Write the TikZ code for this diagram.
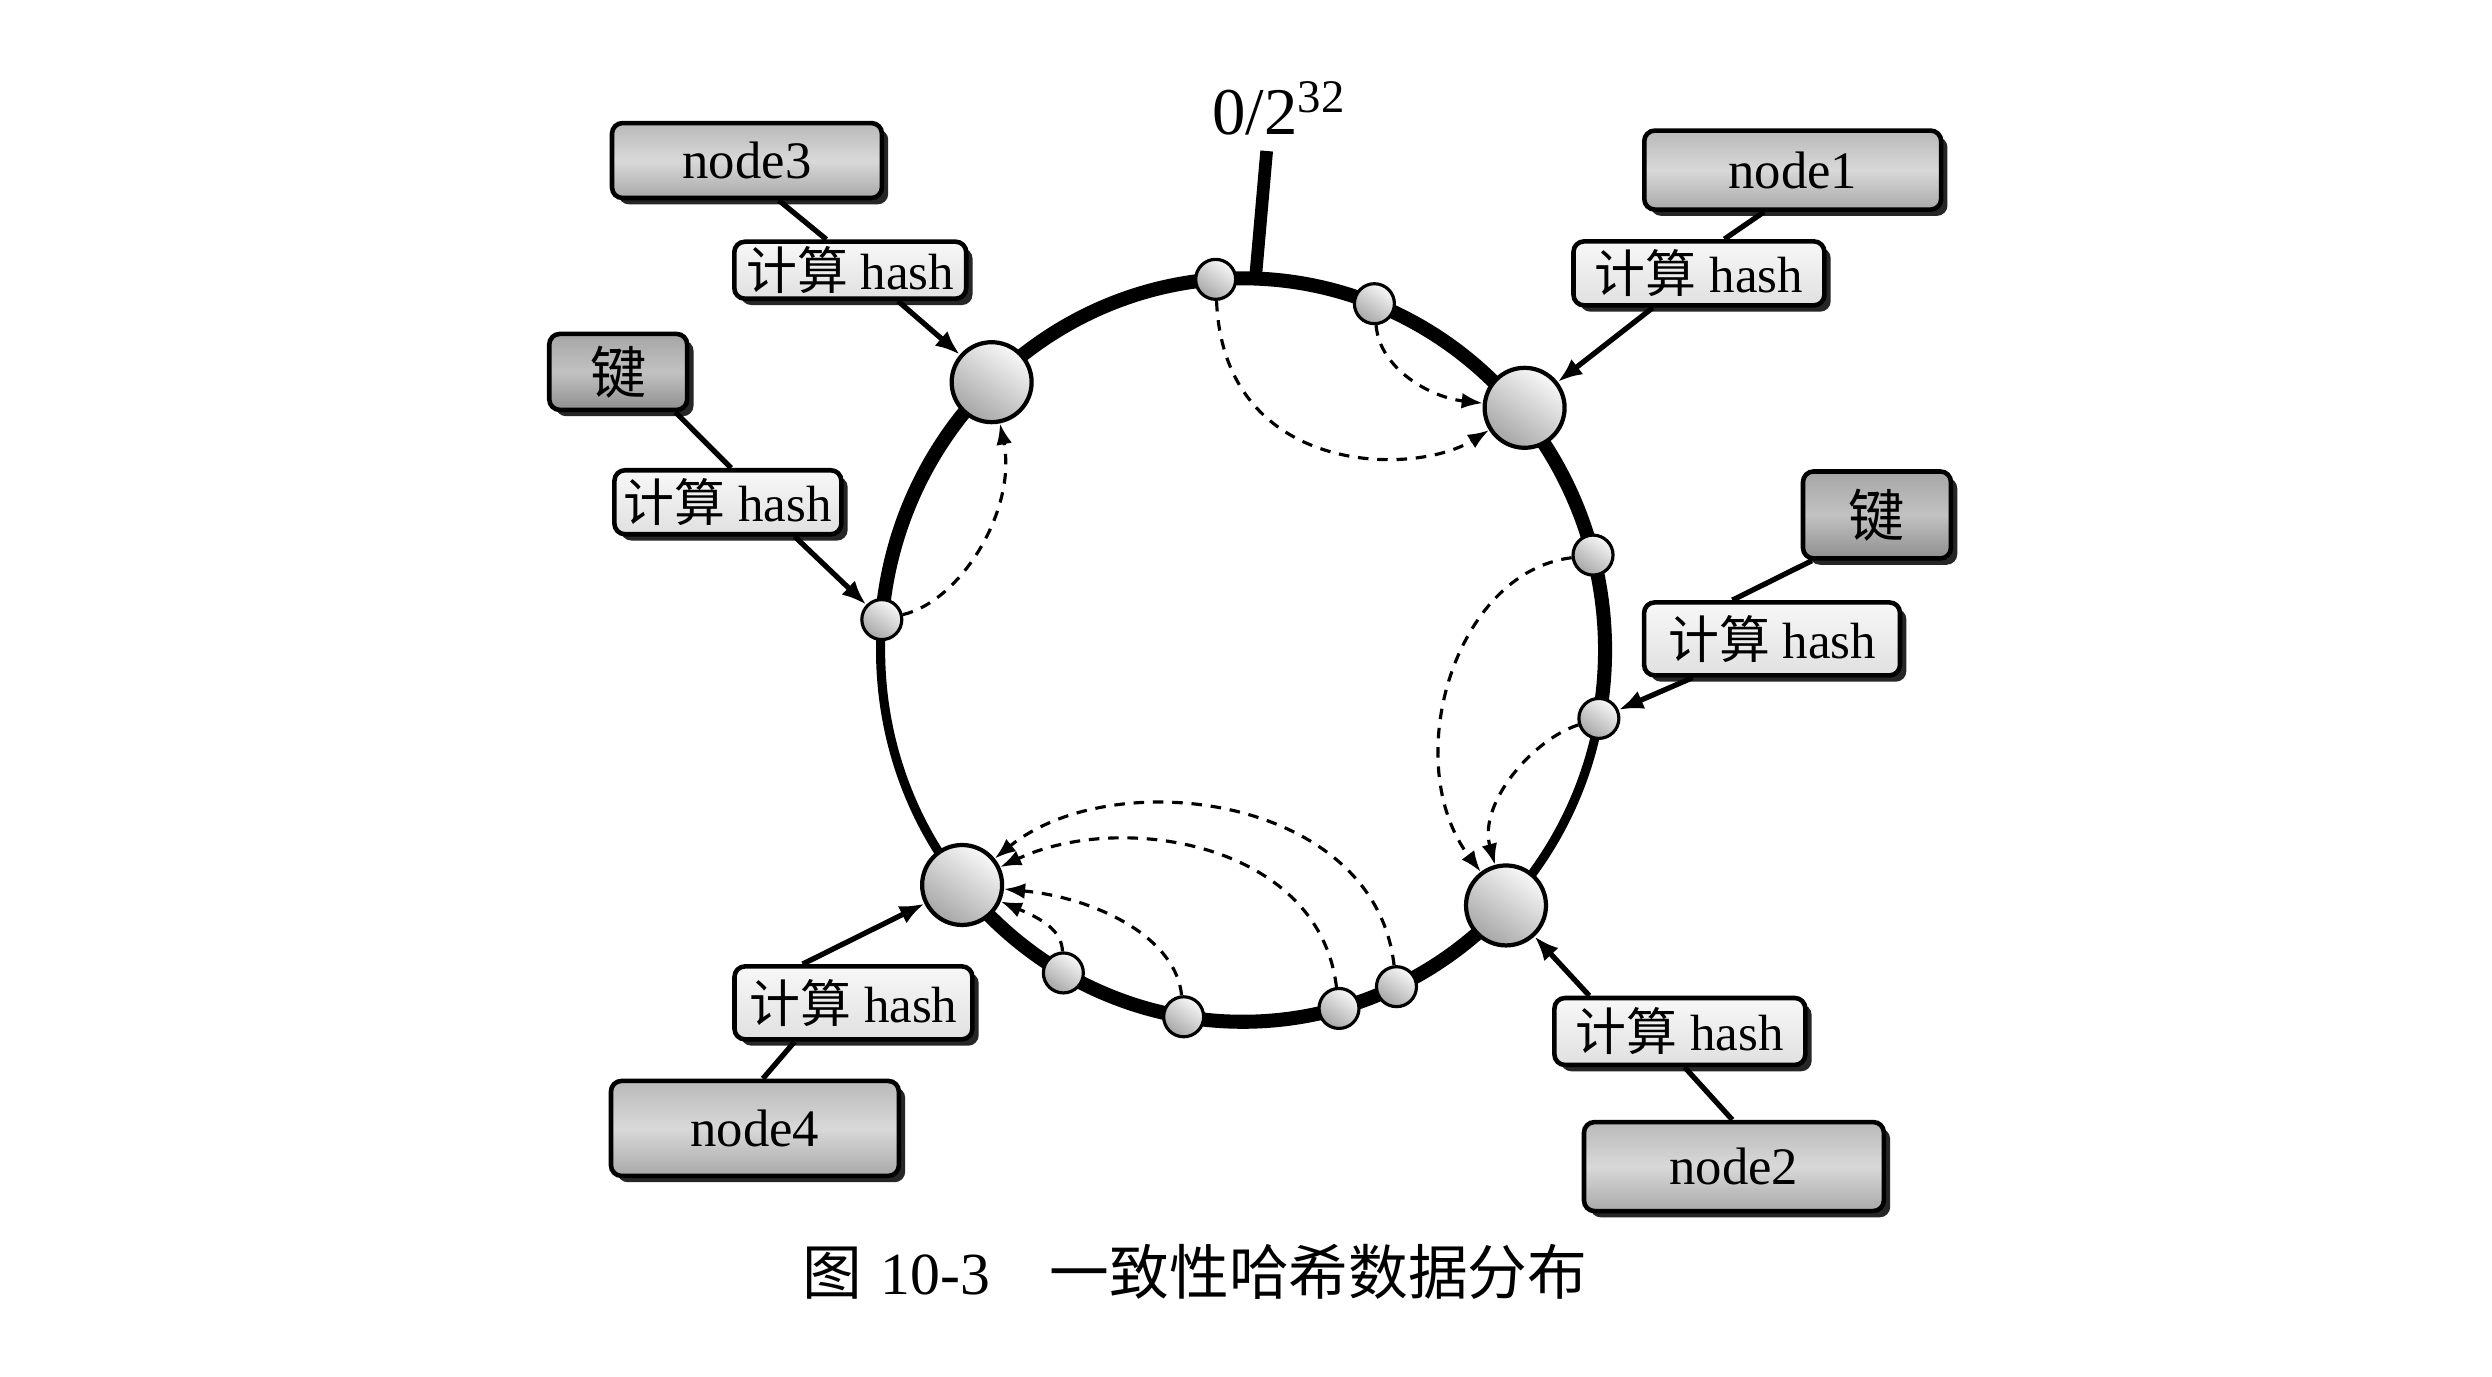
\documentclass[tikz,border=0pt]{standalone}
\usepackage{fontspec}
\newfontfamily\cjk{Noto Sans CJK SC}
\newfontfamily\tms{Liberation Serif}
\usetikzlibrary{calc,shadows,arrows.meta}
\begin{document}
\begin{tikzpicture}[x=0.015893cm, y=-0.015893cm,
  ring/.style={line width=2.6pt},
  ringthick/.style={line width=4pt},
  tick/.style={line width=3.6pt},
  ballshade/.style={left color=gray!5, right color=gray!70, shading angle=-35},
  bigball/.style={circle, draw=black, line width=1.2pt, ballshade, minimum size=0.8cm, inner sep=0pt},
  smallball/.style={circle, draw=black, line width=0.9pt, ballshade, minimum size=0.4cm, inner sep=0pt},
  box/.style={rounded corners=3pt, draw=black, line width=1.3pt,
    drop shadow={shadow xshift=1.8pt, shadow yshift=-1.8pt, fill=black!85, opacity=1},
    inner sep=0pt, font=\tms\fontsize{14.5}{16}\selectfont},
  nodebox/.style={box, top color=gray!55, bottom color=gray!68, middle color=gray!30, font=\tms\fontsize{15}{17}\selectfont},
  keybox/.style={box, top color=gray!70, bottom color=gray!88, middle color=gray!48, font=\cjk\fontsize{16}{18}\selectfont},
  hashbox/.style={box, top color=gray!6, bottom color=gray!24},
  link/.style={line width=1.5pt},
  feed/.style={line width=1.5pt, -{Latex[length=7pt,width=5.5pt]}},
  hop/.style={line width=0.9pt, dash pattern=on 3pt off 2.5pt, -{Latex[length=6pt,width=4.5pt]}},
]
\fill[white] (0,0) rectangle (1568,866);
\useasboundingbox (0,0) rectangle (1568,866);

% ring
\coordinate (C) at (782,409);
\draw[ring] (C) ellipse [x radius=3.624cm, y radius=3.719cm];
\draw[ringthick] ($(C)+(175.3:3.624cm and 3.719cm)$) arc[start angle=175.3, end angle=-10.6, x radius=3.624cm, y radius=3.719cm];
\draw[ringthick] ($(C)+(-43.4:3.624cm and 3.719cm)$) arc[start angle=-43.4, end angle=-140.8, x radius=3.624cm, y radius=3.719cm];
\coordinate (t0) at ($(C)+(88:3.624cm and 3.719cm)$);
\coordinate (t1) at (797,95);
\draw[tick] (t0) -- (t1);
\node (lab) at (805,68) {\tms\fontsize{19}{21}\selectfont 0/2\textsuperscript{32}};

% points on the ring
\node[smallball] (s1) at ($(C)+(94.3:3.624cm and 3.719cm)$) {};
\node[smallball] (s2) at ($(C)+(68.7:3.624cm and 3.719cm)$) {};
\node[bigball]   (N1) at ($(C)+(40:3.68cm and 3.77cm)$) {};
\node[smallball] (s3) at ($(C)+(14.8:3.624cm and 3.719cm)$) {};
\node[smallball] (s4) at ($(C)+(-10.6:3.624cm and 3.719cm)$) {};
\node[bigball]   (N2) at ($(C)+(-43.4:3.624cm and 3.719cm)$) {};
\node[smallball] (s5) at ($(C)+(-64.9:3.624cm and 3.719cm)$) {};
\node[smallball] (s6) at ($(C)+(-74.6:3.624cm and 3.719cm)$) {};
\node[smallball] (s7) at ($(C)+(-99.4:3.624cm and 3.719cm)$) {};
\node[smallball] (s8) at ($(C)+(-119.7:3.624cm and 3.719cm)$) {};
\node[bigball]   (N4) at ($(C)+(-140.8:3.624cm and 3.719cm)$) {};
\node[smallball] (s9) at ($(C)+(175.3:3.624cm and 3.719cm)$) {};
\node[bigball]   (N3) at ($(C)+(133.9:3.624cm and 3.719cm)$) {};

% dashed hops
\draw[hop] (s1) .. controls (770,300) and (890,300) .. (N1);
\draw[hop] (s2) .. controls (868,232) and (900,250) .. (N1);
\draw[hop] (s9) .. controls (605,378) and (640,320) .. (N3);
\draw[hop] (s3) .. controls (915,360) and (880,480) .. (N2);
\draw[hop] (s4) .. controls (965,465) and (930,505) .. (N2);
\draw[hop] (s5) .. controls (865,500) and (700,480) .. (N4);
\draw[hop] (s6) .. controls (830,530) and (705,510) .. (N4);
\draw[hop] (s7) .. controls (740,590) and (690,565) .. (N4);
\draw[hop] (s8) .. controls (668,585) and (655,578) .. (N4);

% boxes
\node[nodebox, minimum width=2.70cm, minimum height=0.75cm] (n3) at (470,101) {node3};
\node[hashbox, minimum width=2.32cm, minimum height=0.57cm] (h3) at (535,170) {{\cjk 计算} hash};
\node[keybox,  minimum width=1.38cm, minimum height=0.76cm] (kL) at (389,234) {键};
\node[hashbox, minimum width=2.27cm, minimum height=0.64cm] (hL) at (458,316) {{\cjk 计算} hash};
\node[nodebox, minimum width=2.97cm, minimum height=0.79cm] (n1) at (1128,107) {node1};
\node[hashbox, minimum width=2.51cm, minimum height=0.64cm] (h1) at (1069,172) {{\cjk 计算} hash};
\node[keybox,  minimum width=1.48cm, minimum height=0.87cm] (kR) at (1181,324) {键};
\node[hashbox, minimum width=2.56cm, minimum height=0.73cm] (hR) at (1115,402) {{\cjk 计算} hash};
\node[hashbox, minimum width=2.51cm, minimum height=0.67cm] (h2) at (1057,649) {{\cjk 计算} hash};
\node[nodebox, minimum width=3.00cm, minimum height=0.89cm] (n2) at (1091,734) {node2};
\node[hashbox, minimum width=2.38cm, minimum height=0.73cm] (h4) at (537,631) {{\cjk 计算} hash};
\node[nodebox, minimum width=2.88cm, minimum height=0.95cm] (n4) at (475,710) {node4};

% connectors
\draw[link] ($(n3.south)+(20,0)$) -- ($(h3.north)+(-15,0)$);
\draw[feed] ($(h3.south)+(30,0)$) -- (N3);
\draw[link] ($(kL.south)+(36,0)$) -- ($(hL.north)+(2,0)$);
\draw[feed] ($(hL.south)+(42,0)$) -- (s9);
\draw[link] ($(n1.south)+(-18,0)$) -- ($(h1.north)+(16,0)$);
\draw[feed] ($(h1.south)+(-29,0)$) -- (N1);
\draw[link] ($(kR.south)+(-41,0)$) -- ($(hR.north)+(-25,0)$);
\draw[feed] ($(hR.south)+(-50,0)$) -- (s4);
\draw[feed] ($(h2.north)+(-57,0)$) -- (N2);
\draw[link] ($(h2.south)+(3,0)$) -- ($(n2.north)+(-1,0)$);
\draw[feed] ($(h4.north)+(-32,0)$) -- (N4);
\draw[link] ($(h4.south)+(-37,0)$) -- ($(n4.north)+(5,0)$);

% caption
\node (cap) at (752,800) {\fontsize{17}{20}\selectfont{\cjk 图} {\tms 10-3}\quad{\cjk 一致性哈希数据分布}};
\end{tikzpicture}
\end{document}
